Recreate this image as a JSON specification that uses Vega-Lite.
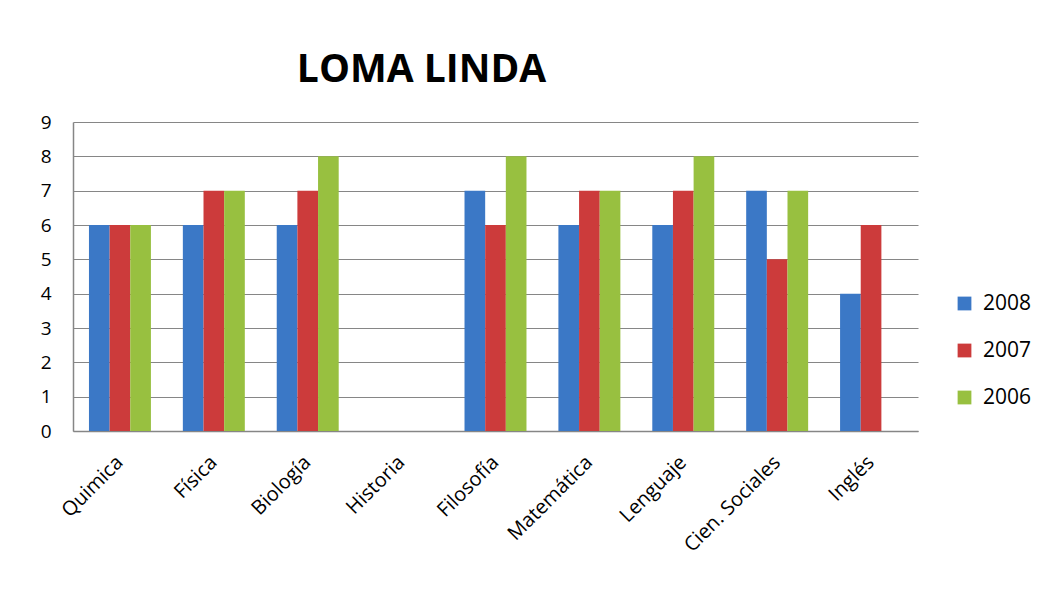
{
  "$schema": "https://vega.github.io/schema/vega-lite/v6.json",
  "autosize": "none",
  "width": 845,
  "height": 309,
  "padding": {"left": 73, "top": 122, "right": 127, "bottom": 172},
  "background": "white",
  "title": {
    "text": "LOMA LINDA",
    "font": "Open Sans",
    "fontSize": 39,
    "fontWeight": "bold",
    "color": "#000000",
    "anchor": "middle",
    "dx": -74,
    "offset": 23
  },
  "data": {
    "values": [
      {"materia": "Quimica", "anio": "2008", "nota": 6},
      {"materia": "Quimica", "anio": "2007", "nota": 6},
      {"materia": "Quimica", "anio": "2006", "nota": 6},
      {"materia": "Física", "anio": "2008", "nota": 6},
      {"materia": "Física", "anio": "2007", "nota": 7},
      {"materia": "Física", "anio": "2006", "nota": 7},
      {"materia": "Biología", "anio": "2008", "nota": 6},
      {"materia": "Biología", "anio": "2007", "nota": 7},
      {"materia": "Biología", "anio": "2006", "nota": 8},
      {"materia": "Historia", "anio": "2008", "nota": null},
      {"materia": "Historia", "anio": "2007", "nota": null},
      {"materia": "Historia", "anio": "2006", "nota": null},
      {"materia": "Filosofía", "anio": "2008", "nota": 7},
      {"materia": "Filosofía", "anio": "2007", "nota": 6},
      {"materia": "Filosofía", "anio": "2006", "nota": 8},
      {"materia": "Matemática", "anio": "2008", "nota": 6},
      {"materia": "Matemática", "anio": "2007", "nota": 7},
      {"materia": "Matemática", "anio": "2006", "nota": 7},
      {"materia": "Lenguaje", "anio": "2008", "nota": 6},
      {"materia": "Lenguaje", "anio": "2007", "nota": 7},
      {"materia": "Lenguaje", "anio": "2006", "nota": 8},
      {"materia": "Cien. Sociales", "anio": "2008", "nota": 7},
      {"materia": "Cien. Sociales", "anio": "2007", "nota": 5},
      {"materia": "Cien. Sociales", "anio": "2006", "nota": 7},
      {"materia": "Inglés", "anio": "2008", "nota": 4},
      {"materia": "Inglés", "anio": "2007", "nota": 6},
      {"materia": "Inglés", "anio": "2006", "nota": null}
    ]
  },
  "mark": {"type": "bar", "stroke": null},
  "encoding": {
    "x": {
      "field": "materia",
      "type": "nominal",
      "sort": null,
      "scale": {
        "domain": ["Quimica", "Física", "Biología", "Historia", "Filosofía", "Matemática", "Lenguaje", "Cien. Sociales", "Inglés"],
        "paddingInner": 0.34,
        "paddingOuter": 0.17
      },
      "axis": {
        "title": null,
        "labelAngle": -45,
        "labelAlign": "right",
        "labelBaseline": "middle",
        "labelFont": "Open Sans",
        "labelFontSize": 20,
        "labelColor": "#000000",
        "labelPadding": 28,
        "labelOverlap": false,
        "ticks": false,
        "domainColor": "#868686",
        "domainWidth": 1.5
      }
    },
    "xOffset": {
      "field": "anio",
      "type": "nominal",
      "sort": ["2008", "2007", "2006"],
      "scale": {"domain": ["2008", "2007", "2006"], "paddingInner": 0, "paddingOuter": 0}
    },
    "y": {
      "field": "nota",
      "type": "quantitative",
      "scale": {"domain": [0, 9], "nice": false},
      "axis": {
        "title": null,
        "values": [0, 1, 2, 3, 4, 5, 6, 7, 8, 9],
        "labelFont": "Open Sans",
        "labelFontSize": 19,
        "labelColor": "#000000",
        "labelPadding": 22,
        "ticks": false,
        "grid": true,
        "gridColor": "#868686",
        "gridWidth": 1.2,
        "domainColor": "#868686",
        "domainWidth": 1.5
      }
    },
    "color": {
      "field": "anio",
      "type": "nominal",
      "sort": ["2008", "2007", "2006"],
      "scale": {
        "domain": ["2008", "2007", "2006"],
        "range": ["#3B78C6", "#CC3B3B", "#98C040"]
      },
      "legend": {
        "title": null,
        "orient": "none",
        "legendX": 881,
        "legendY": 171,
        "symbolType": "square",
        "symbolSize": 190,
        "symbolStrokeWidth": 0,
        "labelFont": "Open Sans",
        "labelFontSize": 21,
        "labelColor": "#000000",
        "labelOffset": 8,
        "rowPadding": 25
      }
    }
  },
  "config": {
    "view": {"stroke": null}
  }
}
